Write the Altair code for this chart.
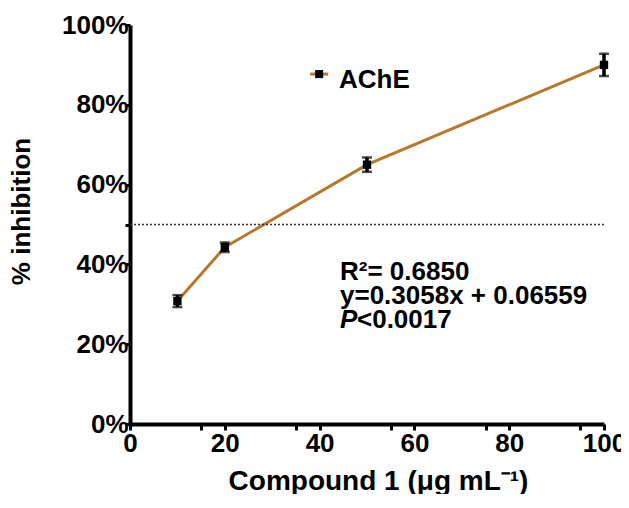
import altair as alt
import pandas as pd

# --- data ---
conc = [10, 20, 50, 100]
inhibition = [30.8, 44.3, 65.0, 90.0]
sem = [1.5, 1.2, 1.8, 2.8]
threshold = 50
series_name = "AChE"

# annotation text (positions in data units)
ann_lines = ["R\u00b2= 0.6850", "y=0.3058x + 0.06559"]
ann_x = [44.3, 44.3]
ann_y = [36.1, 30.1]
p_letter = "P"
p_rest = "<0.0017"
p_y = 24.1

# legend (positions in data units)
leg_line_x = [38.0, 41.8]
leg_sym_x = 39.9
leg_y = 87.7
leg_text_x = 44.1
leg_text_y = 84.2

x_ticks = [0, 15, 20, 35, 40, 55, 60, 75, 80, 95, 100]
y_ticks = [0, 20, 40, 50, 60, 80, 100]

FONT = "Liberation Sans"
BROWN = "#B8782C"
NB = "\u00a0"

df = pd.DataFrame({"x": conc, "y": inhibition, "lo": [v - e for v, e in zip(inhibition, sem)],
                   "hi": [v + e for v, e in zip(inhibition, sem)]})

xscale = alt.Scale(domain=[0, 100], nice=False, zero=False)
yscale = alt.Scale(domain=[0, 100], nice=False, zero=False)

common = dict(
    domainColor="black", domainWidth=4, tickColor="black", tickWidth=3,
    grid=False, labelFlush=False, labelOverlap=False,
    labelFont=FONT, labelFontSize=26, labelFontWeight="bold", labelColor="black",
    titleFont=FONT, titleFontWeight="bold", titleColor="black",
)

xaxis = alt.Axis(
    values=x_ticks,
    labelExpr="datum.value == 100 ? '100" + NB + NB + "' : (datum.value % 20 == 0 ? datum.label : '')",
    title="Compound 1 (\u03bcg mL\u207b\u00b9)",
    titleFontSize=28,
    titleX=248, titleY=65, titleBaseline="alphabetic", titleAlign="center",
    labelPadding=0, tickSize=6,
    **common,
)
yaxis = alt.Axis(
    values=y_ticks,
    labelExpr="datum.value == 50 ? '' : datum.value + '%'",
    title="% inhibition",
    titleFontSize=26,
    titleX=-101, titleY=186, titleBaseline="alphabetic", titleAlign="center", titleAngle=270,
    labelPadding=-3, tickSize=5,
    **common,
)

base = alt.Chart(df)

line = base.mark_line(color=BROWN, strokeWidth=3).encode(
    x=alt.X("x:Q", scale=xscale, axis=xaxis),
    y=alt.Y("y:Q", scale=yscale, axis=yaxis),
)

ref = alt.Chart(pd.DataFrame({"t": [threshold], "a": [0], "b": [100]})).mark_rule(
    color="#333333", strokeWidth=1.3, strokeDash=[2, 2]
).encode(
    y=alt.Y("t:Q"),
    x=alt.X("a:Q"),
    x2="b:Q",
)

err = base.mark_rule(color="black", strokeWidth=3.5).encode(
    x="x:Q", y="lo:Q", y2="hi:Q"
)
cap_lo = base.mark_tick(color="black", thickness=2.5, size=10, orient="horizontal").encode(
    x="x:Q", y="lo:Q"
)
cap_hi = base.mark_tick(color="black", thickness=2.5, size=10, orient="horizontal").encode(
    x="x:Q", y="hi:Q"
)
pts = base.mark_square(color="black", size=70, opacity=1).encode(x="x:Q", y="y:Q")

ann = alt.Chart(pd.DataFrame({"x": ann_x, "y": ann_y, "t": ann_lines})).mark_text(
    align="left", baseline="alphabetic", font=FONT, fontSize=26, fontWeight="bold", color="black"
).encode(x="x:Q", y="y:Q", text="t:N")

pdf = pd.DataFrame({"x": [ann_x[0]], "y": [p_y], "a": [p_letter], "b": [p_rest]})
p1 = alt.Chart(pdf).mark_text(
    align="left", baseline="alphabetic", font=FONT, fontSize=26, fontWeight="bold",
    fontStyle="italic", color="black"
).encode(x="x:Q", y="y:Q", text="a:N")
p2 = alt.Chart(pdf).mark_text(
    align="left", baseline="alphabetic", font=FONT, fontSize=26, fontWeight="bold",
    color="black", dx=17
).encode(x="x:Q", y="y:Q", text="b:N")

leg_line = alt.Chart(pd.DataFrame({"x": leg_line_x, "y": [leg_y, leg_y]})).mark_line(
    color=BROWN, strokeWidth=3
).encode(x="x:Q", y="y:Q")
leg_sym = alt.Chart(pd.DataFrame({"x": [leg_sym_x], "y": [leg_y]})).mark_square(
    color="black", size=64, opacity=1
).encode(x="x:Q", y="y:Q")
leg_txt = alt.Chart(pd.DataFrame({"x": [leg_text_x], "y": [leg_text_y], "t": [series_name]})).mark_text(
    align="left", baseline="alphabetic", font=FONT, fontSize=26, fontWeight="bold", color="black"
).encode(x="x:Q", y="y:Q", text="t:N")

chart = alt.layer(line, ref, err, cap_lo, cap_hi, pts, ann, p1, p2, leg_line, leg_sym, leg_txt).properties(
    width=474, height=399,
    background="white",
    autosize=alt.AutoSizeParams(type="none"),
    padding={"left": 122, "top": 17, "right": 17, "bottom": 70},
).configure_view(stroke=None).configure_axis(**common)

chart.save("out.html", embed_options={"renderer": "svg", "actions": False})
